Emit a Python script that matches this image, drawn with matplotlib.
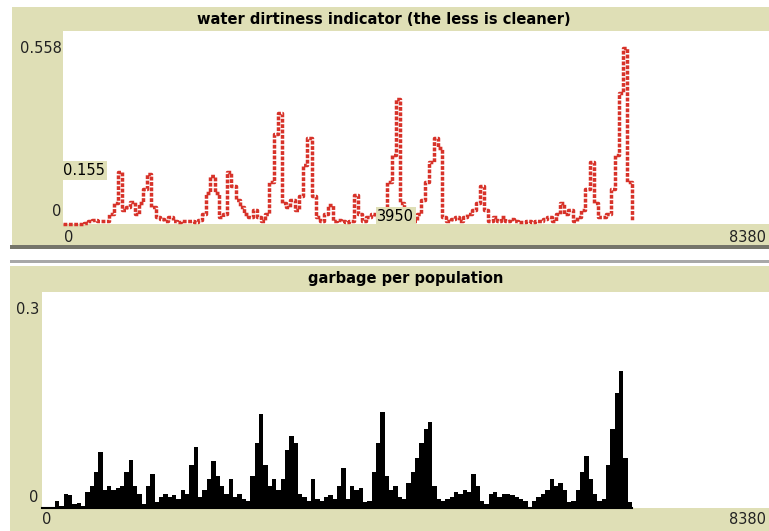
import numpy as np
import matplotlib
matplotlib.use("Agg")
import matplotlib.pyplot as plt
from matplotlib.patches import Rectangle

# plot values, one every 50 ticks
step = 50
dirtiness = [0, 0, 0, 0, 0, 0.002, 0.01, 0.012, 0.01, 0.008,
             0.01, 0.03, 0.06, 0.15, 0.04, 0.05, 0.065, 0.03, 0.06, 0.10,
             0.145, 0.05, 0.02, 0.015, 0.01, 0.02, 0.01, 0.005, 0.01, 0.008,
             0.01, 0.005, 0.012, 0.03, 0.09, 0.14, 0.09, 0.02, 0.03, 0.15,
             0.11, 0.07, 0.05, 0.03, 0.02, 0.04, 0.02, 0.01, 0.03, 0.12,
             0.26, 0.32, 0.06, 0.05, 0.07, 0.04, 0.08, 0.17, 0.25, 0.08,
             0.02, 0.01, 0.03, 0.055, 0.01, 0.012, 0.01, 0.005, 0.01, 0.085,
             0.03, 0.01, 0.02, 0.03, 0.02, 0.03, 0.02, 0.12, 0.2, 0.36,
             0.06, 0.01, 0.005, 0.01, 0.03, 0.07, 0.12, 0.18, 0.25, 0.22,
             0.02, 0.01, 0.015, 0.02, 0.01, 0.02, 0.03, 0.04, 0.06, 0.11,
             0.04, 0.01, 0.02, 0.01, 0.02, 0.01, 0.015, 0.01, 0.005, 0.005,
             0.01, 0.005, 0.008, 0.01, 0.015, 0.02, 0.01, 0.03, 0.06, 0.03,
             0.04, 0.01, 0.02, 0.04, 0.10, 0.18, 0.06, 0.02, 0.02, 0.03,
             0.10, 0.20, 0.38, 0.51, 0.12, 0.01]

garbage = [0, 0, 0, 0.01, 0.003, 0.02, 0.018, 0.005, 0.007, 0.003,
           0.022, 0.03, 0.05, 0.078, 0.025, 0.03, 0.025, 0.028, 0.03, 0.05,
           0.066, 0.03, 0.02, 0.005, 0.03, 0.047, 0.008, 0.015, 0.02, 0.015,
           0.018, 0.012, 0.025, 0.02, 0.06, 0.085, 0.015, 0.025, 0.04, 0.065,
           0.045, 0.03, 0.02, 0.04, 0.015, 0.02, 0.012, 0.01, 0.045, 0.09,
           0.13, 0.06, 0.03, 0.04, 0.025, 0.04, 0.08, 0.10, 0.09, 0.02,
           0.015, 0.01, 0.04, 0.012, 0.01, 0.015, 0.018, 0.012, 0.03, 0.055,
           0.012, 0.03, 0.025, 0.028, 0.008, 0.01, 0.05, 0.09, 0.133, 0.045,
           0.025, 0.03, 0.015, 0.012, 0.035, 0.05, 0.07, 0.09, 0.11, 0.12,
           0.03, 0.012, 0.01, 0.013, 0.015, 0.022, 0.02, 0.025, 0.022, 0.047,
           0.03, 0.01, 0.005, 0.02, 0.022, 0.015, 0.02, 0.02, 0.018, 0.015,
           0.012, 0.01, 0.002, 0.01, 0.015, 0.02, 0.025, 0.04, 0.03, 0.035,
           0.025, 0.008, 0.01, 0.025, 0.05, 0.072, 0.04, 0.02, 0.01, 0.012,
           0.06, 0.11, 0.16, 0.19, 0.07, 0.008]

x_max = 8380
dirt_max = 0.558
garb_max = 0.3
hover_x = 3950
hover_y = 0.155

W, H = 769, 531
khaki = "#dfdfb6"
red = "#d73229"

fig = plt.figure(figsize=(W / 100, H / 100), dpi=100)
fig.patch.set_facecolor("white")


def rect(x0, y0, x1, y1, color):
    fig.add_artist(Rectangle((x0 / W, 1 - y1 / H), (x1 - x0) / W, (y1 - y0) / H,
                             transform=fig.transFigure, color=color, zorder=0, lw=0))


def ftext(x, y, s, **kw):
    fig.text(x / W, 1 - y / H, s, **kw)


def axes_px(x0, y0, x1, y1):
    return fig.add_axes([x0 / W, 1 - y1 / H, (x1 - x0) / W, (y1 - y0) / H])


# panel backgrounds and separators
rect(12, 7, W, 245, khaki)
rect(10, 245, W, 249, "#75756a")
rect(10, 260, W, 263, "#a8a8a8")
rect(10, 266, W, H, khaki)

# top plot
ax1 = axes_px(63, 31, W, 224)
x1 = np.arange(len(dirtiness)) * step
ax1.plot(x1, dirtiness, drawstyle="steps-post", color=red, lw=2.5,
         ls=(0, (1.1, 0.45)), clip_on=False)
ax1.set_xlim(0, x_max)
ax1.set_ylim(0, dirt_max)
ax1.text(0, hover_y, "%.3f" % hover_y, ha="left", va="center", fontsize=10.5,
         bbox=dict(boxstyle="square,pad=0.12", fc=khaki, ec="none"), zorder=5)
ax1.text(hover_x, 0, str(hover_x), ha="center", va="bottom", fontsize=10.5,
         bbox=dict(boxstyle="square,pad=0.12", fc=khaki, ec="none"), zorder=5)

# bottom plot
ax2 = axes_px(42, 292, W, 508)
x2 = np.arange(len(garbage)) * step
ax2.bar(x2, garbage, width=step, align="edge", color="black", lw=0)
ax2.plot([0, x2[-1] + step], [0, 0], color="black", lw=1.5, clip_on=False)
ax2.set_xlim(0, x_max)
ax2.set_ylim(0, garb_max)

for ax in (ax1, ax2):
    ax.set_facecolor("white")
    ax.set_xticks([])
    ax.set_yticks([])
    for s in ax.spines.values():
        s.set_visible(False)

tfont = dict(fontsize=10.5, fontweight="bold", family=["Liberation Sans Narrow", "DejaVu Sans"],
             ha="center", va="center")
ftext(384, 19, "water dirtiness indicator (the less is cleaner)", **tfont)
ftext(406, 278, "garbage per population", **tfont)

lab = dict(fontsize=10.5, color="#222222")
ftext(62, 48, "0.558", ha="right", va="center", **lab)
ftext(61, 212, "0", ha="right", va="center", **lab)
ftext(64, 237, "0", ha="left", va="center", **lab)
ftext(766, 237, str(x_max), ha="right", va="center", **lab)

ftext(39, 309, "0.3", ha="right", va="center", **lab)
ftext(38, 497, "0", ha="right", va="center", **lab)
ftext(42, 520, "0", ha="left", va="center", **lab)
ftext(766, 520, str(x_max), ha="right", va="center", **lab)

fig.savefig("out.png", dpi=100)
